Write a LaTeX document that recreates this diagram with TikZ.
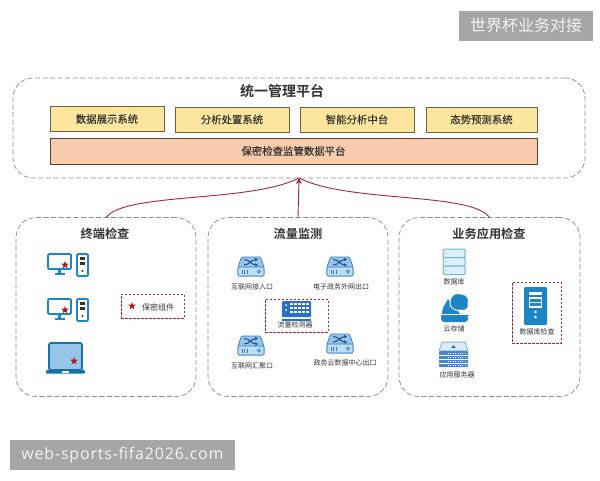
\documentclass[tikz,border=0pt]{standalone}
\usepackage{fontspec}
\usetikzlibrary{shapes.geometric,arrows.meta}
\setmainfont{Noto Sans CJK SC}[BoldFont={Noto Sans CJK SC Bold}]
\newfontfamily\medfont{Noto Sans CJK SC}[FakeBold=0.2]
\newfontfamily\wmfont{Open Sans}[LetterSpace=5]
\definecolor{dashgray}{HTML}{8A8A8A}
\definecolor{yfill}{HTML}{FCE59C}
\definecolor{yline}{HTML}{6B6340}
\definecolor{ofill}{HTML}{F8CBAD}
\definecolor{oline}{HTML}{5C4038}
\definecolor{redl}{HTML}{A3283A}
\definecolor{starred}{HTML}{A51C28}
\definecolor{blue1}{HTML}{1C86C4}
\definecolor{blue2}{HTML}{2F7DBE}
\definecolor{blue3}{HTML}{96C5E8}
\definecolor{blue4}{HTML}{2A6FC9}
\definecolor{teal1}{HTML}{6DB7D3}
\definecolor{wm}{HTML}{A6A6A6}
\definecolor{txt}{HTML}{333333}
\tikzset{
  group/.style={draw=dashgray,dashed,dash pattern=on 5pt off 2.5pt,line width=.7pt,rounded corners=20pt,minimum width=#1,inner sep=0,outer sep=0},
  ybox/.style={draw=yline,fill=yfill,line width=.8pt,minimum width=#1,minimum height=25pt,inner sep=0,outer sep=0,font=\medfont\fontsize{10.4}{10}\selectfont,text=txt},
  redbox/.style={draw=redl,dash pattern=on 2.5pt off 1.5pt,line width=.9pt,inner sep=0,outer sep=0},
  title/.style={font=\fontsize{12.2}{13}\selectfont\bfseries,text=txt,inner sep=0},
  small/.style={font=\fontsize{7}{7}\selectfont,text=txt,inner sep=0},
  redstar/.style={star,star points=5,star point ratio=2.4,fill=starred,inner sep=0,minimum size=#1},
  flow/.style={draw=redl,line width=.9pt},
  watermark/.style={fill=wm,text=white!95!black,inner sep=0,outer sep=0}
}
\newcommand{\pcicon}[2]{\begin{scope}[shift={(#1,#2)}]
  \draw[blue1,line width=1.6pt,fill=white,rounded corners=1pt] (1,1) rectangle (24,16);
  \fill[blue1] (11,16) rectangle (14,20);
  \fill[blue1] (7.5,20) rectangle (17.5,22);
  \draw[blue1,line width=1.6pt,fill=white,rounded corners=1pt] (30,1) rectangle (41,23);
  \fill[black!80] (33,3.5) rectangle (38,6.5);
  \fill[black!80] (33,8.5) rectangle (38,11.5);
  \fill[black!80] (35.5,18) circle (1.2);
\end{scope}}
\newcommand{\swicon}[2]{\begin{scope}[shift={(#1,#2)}]
  \draw[blue2,line width=.7pt,fill=blue3,rounded corners=1.2pt] (3.5,0) -- (22.5,0) -- (26,10) -- (26,19) -- (0,19) -- (0,10) -- cycle;
  \draw[blue2,line width=.6pt,fill=blue3!60,rounded corners=1.2pt] (0,10) rectangle (26,19);
  \draw[blue4!70!black,line width=1pt,-{Stealth[length=3pt,width=3.5pt]}] (6,2.5) .. controls (12,2.5) and (13,8) .. (20,8);
  \draw[blue4!70!black,line width=1pt,-{Stealth[length=3pt,width=3.5pt]}] (6,8) .. controls (12,8) and (13,2.5) .. (20,2.5);
  \foreach \b in {4,6.5,9} \draw[blue2,line width=.7pt] (\b,12.5) -- (\b,16.5);
  \draw[blue2,line width=.7pt] (21,14.5) circle (1.6);
\end{scope}}
\begin{document}
\begin{tikzpicture}[x=1pt,y=-1pt]
\useasboundingbox (0,0) rectangle (600,480);
% watermarks
\node[watermark,minimum width=134pt,minimum height=30pt,font=\fontsize{16}{16}\selectfont] (wmtop) at (526,25.5) {世界杯业务对接};
\node[watermark,minimum width=225pt,minimum height=30pt,font=\wmfont\fontsize{16}{16}\selectfont] (wmbot) at (122.5,455) {web-sports-fifa2026.com};
% top group
\node[group=572pt,minimum height=100pt] (top) at (299,128) {};
\node[title,font=\fontsize{14}{14}\selectfont\bfseries] (toptitle) at (282,91) {统一管理平台};
\node[ybox=114pt] (y1) at (107,119) {数据展示系统};
\node[ybox=114pt] (y2) at (232,119.5) {分析处置系统};
\node[ybox=114pt] (y3) at (357,119.5) {智能分析中台};
\node[ybox=111pt] (y4) at (481.5,119.5) {态势预测系统};
\node[ybox=487pt,draw=oline,fill=ofill,minimum height=26pt] (ob) at (293.5,151) {保密检查监管数据平台};
% lower groups
\node[group=180pt,minimum height=179pt] (g1) at (106,307) {};
\node[group=180pt,minimum height=179pt] (g2) at (298,307) {};
\node[group=181pt,minimum height=179pt] (g3) at (489.5,307) {};
\node[title] (t1) at (105,234) {终端检查};
\node[title] (t2) at (298,234) {流量监测};
\node[title] (t3) at (489,234) {业务应用检查};
% connectors
\draw[flow] (g1.north) .. controls (125,192) and (250,203) .. (top.south);
\draw[flow] (g3.north) .. controls (472,192) and (348,203) .. (top.south);
\draw[flow,-{Stealth[length=6pt,width=6pt]}] (g2.north) -- (top.south);
% terminal icons
\pcicon{47}{253}
\node[redstar=8pt] (s1) at (65,265) {};
\pcicon{47}{298}
\node[redstar=8pt] (s2) at (65,310) {};
\begin{scope}[shift={(46,342)}]
  \draw[blue1!85!black,line width=1.6pt,fill=blue3,rounded corners=1.5pt] (3,1) rectangle (36,28);
  \fill[blue1!85!black,rounded corners=1pt] (0,28) rectangle (39,31.5);
  \fill[white] (16,28.5) rectangle (23,30.5);
\end{scope}
\node[redstar=8pt] (s3) at (74,361) {};
\node[redbox,draw,minimum width=63pt,minimum height=24pt] (legend) at (152.5,306) {};
\node[redstar=8pt] (s4) at (132,306) {};
\node[small,font=\fontsize{8}{8}\selectfont] (legt) at (158,307) {保密组件};
% traffic
\swicon{238}{257}
\node[small] (l1) at (252,287) {互联网接入口};
\swicon{327}{257}
\node[small] (l2) at (341,287) {电子政务外网出口};
\node[redbox,draw,minimum width=63pt,minimum height=33pt] (det) at (296.5,315.5) {};
\begin{scope}[shift={(282,301)}]
  \fill[blue4,rounded corners=1pt] (0,0) rectangle (29,16);
  \fill[blue4] (0,17.5) rectangle (29,20);
  \foreach \px in {9.5,13.5,17.5,21.5,25.5}{\foreach \py in {3,7,11}{\fill[white] (\px-1.4,\py-1.2) rectangle (\px+1.4,\py+1.4);}}
  \fill[white] (4,4) circle (1); \fill[white] (4,9) circle (1);
\end{scope}
\node[small] (l3) at (295,325) {流量检测器};
\swicon{238}{336}
\node[small] (l4) at (252,366) {互联网汇聚口};
\swicon{327}{334}
\node[small] (l5) at (345,363) {政务云数据中心出口};
% application
\begin{scope}[shift={(443,249)}]
  \foreach \ry in {0,8.5,17}{\draw[teal1,line width=1pt,fill=blue3!30,rounded corners=1.2pt] (0,\ry) rectangle (22,\ry+8.5); \fill[teal1] (3,\ry+4.2) circle (.7);}
\end{scope}
\node[small] (a1) at (454,282) {数据库};
\begin{scope}[shift={(441,293)}]
  \fill[blue1] (0,24) -- (2,15) -- (7,6) -- (20,22) -- (28,22) -- (28,23) -- cycle;
  \fill[blue1,rounded corners=3pt] (0,22) rectangle (27,29);
  \draw[white,line width=.8pt] (-.5,21.5) -- (28,21.5);
  \draw[white,line width=1pt,fill=blue1] (9,8) .. controls (9,2) and (16,-1) .. (20,1) .. controls (25,1) and (29,5) .. (27,10) .. controls (29,15) and (24,19) .. (20,17) .. controls (14,19) and (7,14) .. (9,8) -- cycle;
\end{scope}
\node[small] (a2) at (454,329) {云存储};
\begin{scope}[shift={(439,342)}]
  \draw[blue2!80,line width=.6pt,fill=blue3!35,rounded corners=1pt] (3,0) -- (26,0) -- (29,9) -- (0,9) -- cycle;
  \fill[blue2] (14.5,3) -- (17,6) -- (12,6) -- cycle;
  \fill[blue2!90,rounded corners=1pt] (0,9) rectangle (29,25);
  \foreach \ry in {13.5,17.5,21.5}{\draw[white,line width=.5pt] (0,\ry) -- (29,\ry);}
  \foreach \ry in {11.5,15.5,19.5,23.5}{\draw[white,line width=.6pt,dash pattern=on 1pt off 1.4pt] (9,\ry) -- (27,\ry);}
\end{scope}
\node[small] (a3) at (457,375) {应用服务器};
\node[redbox,draw,minimum width=49pt,minimum height=61pt] (chk) at (536.5,312.5) {};
\begin{scope}[shift={(524,287)}]
  \fill[blue1,rounded corners=1.2pt] (0,0) rectangle (23,38);
  \fill[white] (5,5) rectangle (18,7.5);
  \draw[white,line width=1.4pt] (5.5,11) rectangle (17.5,20);
  \draw[white,line width=1.2pt] (5,15.5) -- (18,15.5);
  \fill[white] (11.5,25) circle (1.4);
  \fill[white] (11.5,30) circle (1.4);
\end{scope}
\node[small] (a4) at (537,332) {数据库检查};
\end{tikzpicture}
\end{document}
